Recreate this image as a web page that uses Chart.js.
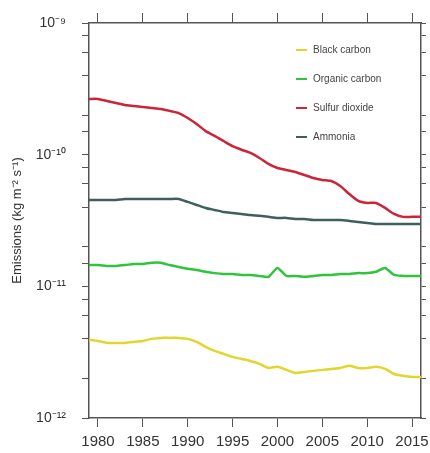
<!DOCTYPE html>
<html lang="en">
<head>
    <meta charset="UTF-8">
    <title>Emissions</title>
    <script src="https://cdn.jsdelivr.net/npm/chart.js"></script>
    <style>
        body { margin: 0; background: #fff; }
        #wrap { position: relative; width: 430px; height: 453px; }
    </style>
</head>
<body>
    <div id="wrap"><canvas id="myChart"></canvas></div>

    <script>
        // Annual values 1979-2016
        const years = [];
        for (let y = 1979; y <= 2016; y++) years.push(y);

        const xTickValues = [1980, 1985, 1990, 1995, 2000, 2005, 2010, 2015];
        const yTickLabels = { '-9': '10⁻⁹', '-10': '10⁻¹⁰', '-11': '10⁻¹¹', '-12': '10⁻¹²' };

        const blackCarbon = [3.92, 3.85, 3.72, 3.72, 3.72, 3.78, 3.85, 3.99, 4.06, 4.06, 4.06, 3.99, 3.78,
            3.47, 3.23, 3.07, 2.91, 2.81, 2.71, 2.58, 2.40, 2.45, 2.32, 2.20, 2.24, 2.28, 2.32, 2.36,
            2.40, 2.49, 2.40, 2.40, 2.45, 2.36, 2.16, 2.09, 2.05, 2.05].map(v => v * 1e-12);

        const organicCarbon = [1.45, 1.45, 1.43, 1.43, 1.45, 1.48, 1.48, 1.51, 1.51, 1.45, 1.40, 1.36, 1.33,
            1.29, 1.26, 1.24, 1.24, 1.22, 1.22, 1.20, 1.18, 1.38, 1.20, 1.20, 1.18, 1.20, 1.22, 1.22,
            1.24, 1.24, 1.26, 1.26, 1.29, 1.38, 1.22, 1.20, 1.20, 1.20].map(v => v * 1e-11);

        const sulfurDioxide = [2.65, 2.65, 2.56, 2.47, 2.38, 2.34, 2.30, 2.26, 2.22, 2.15, 2.07, 1.90, 1.71,
            1.51, 1.39, 1.27, 1.16, 1.09, 1.03, 0.944, 0.850, 0.792, 0.765, 0.739, 0.701, 0.665, 0.643, 0.631,
            0.578, 0.503, 0.445, 0.430, 0.430, 0.394, 0.355, 0.337, 0.337, 0.337].map(v => v * 1e-10);

        const ammonia = [4.53, 4.53, 4.53, 4.53, 4.61, 4.61, 4.61, 4.61, 4.61, 4.61, 4.61, 4.38, 4.15,
            3.94, 3.80, 3.67, 3.61, 3.55, 3.48, 3.43, 3.37, 3.31, 3.31, 3.25, 3.25, 3.19, 3.19, 3.19,
            3.19, 3.14, 3.08, 3.03, 2.98, 2.98, 2.98, 2.98, 2.98, 2.98].map(v => v * 1e-11);

        const seriesNames = ['Black carbon', 'Organic carbon', 'Sulfur dioxide', 'Ammonia'];
        const seriesColors = ['#e2d62c', '#2fc43c', '#cc2438', '#3f5f5e'];
        const seriesData = [blackCarbon, organicCarbon, sulfurDioxide, ammonia];

        function toPoints(arr) {
            return arr.map((v, i) => ({ x: years[i], y: v }));
        }

        const FONT = 'Liberation Sans, Arial, sans-serif';
        const AXIS = '#555';

        // keep only 1,2,4,6,8 x 10^n on the log axis
        function logTicks(axis) {
            axis.ticks = axis.ticks.filter(t => {
                const m = Math.round(t.value / Math.pow(10, Math.floor(Math.log10(t.value) + 1e-9)));
                return [1, 2, 4, 6, 8].includes(m);
            });
        }

        function isDecade(v) {
            const e = Math.log10(v);
            return Math.abs(e - Math.round(e)) < 1e-6;
        }

        // fixed box sizes so the plot area sits where the original does
        function fixX(h) {
            return axis => { axis.height = h; axis.paddingLeft = 0; axis.paddingRight = 0; };
        }
        function fixY(w) {
            return axis => { axis.width = w; axis.paddingTop = 0; axis.paddingBottom = 0; };
        }

        // legend drawn inside the plot, top right
        const insideLegend = {
            id: 'insideLegend',
            afterDraw(chart) {
                const ctx = chart.ctx;
                ctx.save();
                ctx.font = '10px ' + FONT;
                ctx.textBaseline = 'middle';
                const rows = [50, 79, 108, 137];
                seriesNames.forEach((name, i) => {
                    ctx.strokeStyle = seriesColors[i];
                    ctx.lineWidth = 2;
                    ctx.beginPath();
                    ctx.moveTo(296, rows[i]);
                    ctx.lineTo(307, rows[i]);
                    ctx.stroke();
                    ctx.fillStyle = '#444';
                    ctx.fillText(name, 313, rows[i]);
                });
                ctx.restore();
            }
        };

        const config = {
            type: 'line',
            data: {
                datasets: seriesNames.map((name, i) => ({
                    label: name,
                    data: toPoints(seriesData[i]),
                    borderColor: seriesColors[i],
                    borderWidth: 2.5,
                    pointRadius: 0,
                    tension: 0.2,
                    xAxisID: 'x',
                    yAxisID: 'y'
                }))
            },
            options: {
                responsive: false,
                animation: false,
                layout: { padding: 0 },
                plugins: {
                    legend: { display: false },
                    tooltip: { enabled: false }
                },
                scales: {
                    x: {
                        type: 'linear',
                        position: 'bottom',
                        min: 1979,
                        max: 2016,
                        border: { color: AXIS, width: 1.5 },
                        grid: { drawOnChartArea: false, tickLength: 9, color: AXIS },
                        afterBuildTicks: axis => { axis.ticks = xTickValues.map(v => ({ value: v })); },
                        afterFit: fixX(35),
                        ticks: {
                            color: '#333',
                            font: { family: FONT, size: 15 },
                            padding: 6,
                            maxRotation: 0,
                            callback: v => String(v)
                        }
                    },
                    xTop: {
                        type: 'linear',
                        position: 'top',
                        min: 1979,
                        max: 2016,
                        border: { color: AXIS, width: 1.5 },
                        grid: { drawOnChartArea: false, tickLength: 10, color: AXIS },
                        afterBuildTicks: axis => { axis.ticks = xTickValues.map(v => ({ value: v })); },
                        afterFit: fixX(23),
                        ticks: { display: false }
                    },
                    y: {
                        type: 'logarithmic',
                        position: 'left',
                        min: 1e-12,
                        max: 1e-9,
                        border: { color: AXIS, width: 1.5 },
                        grid: {
                            drawOnChartArea: false,
                            tickLength: 7,
                            color: AXIS
                        },
                        afterBuildTicks: logTicks,
                        afterFit: fixY(89),
                        title: {
                            display: true,
                            text: 'Emissions (kg m⁻² s⁻¹)',
                            color: '#333',
                            font: { family: FONT, size: 13 },
                            padding: { top: 10, bottom: 0 }
                        },
                        ticks: {
                            color: '#333',
                            font: { family: FONT, size: 14 },
                            padding: 16,
                            autoSkip: false,
                            callback: v => isDecade(v) ? yTickLabels[String(Math.round(Math.log10(v)))] : ''
                        }
                    },
                    yRight: {
                        type: 'logarithmic',
                        position: 'right',
                        min: 1e-12,
                        max: 1e-9,
                        border: { color: AXIS, width: 1.5 },
                        grid: { drawOnChartArea: false, tickLength: 5, color: AXIS },
                        afterBuildTicks: logTicks,
                        afterFit: fixY(9),
                        ticks: { display: false }
                    }
                }
            },
            plugins: [insideLegend]
        };

        const canvas = document.getElementById('myChart');
        canvas.width = 430;
        canvas.height = 453;
        var myChart = new Chart(canvas, config);
    </script>
</body>
</html>
